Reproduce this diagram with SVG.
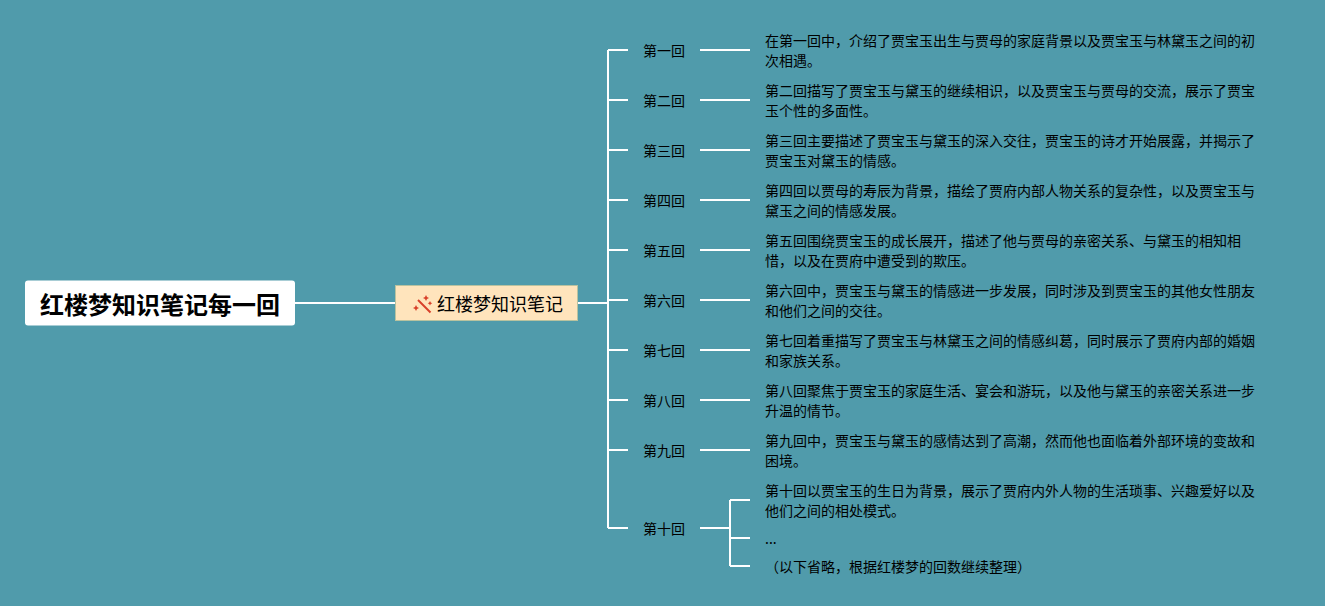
<svg xmlns="http://www.w3.org/2000/svg" width="1325" height="606" viewBox="0 0 1325 606">
<style>
text{font-family:"Noto Sans CJK SC","Noto Sans",sans-serif;fill:#000}
.c{fill:none;stroke:#fff;stroke-width:2}
.b{font-size:14px}
.t{font-size:14px}
</style>
<rect width="1325" height="606" fill="#509BAB"/>
<g id="connectors" class="c">
<path class="c" d="M295 303H395M578 303H608M608 50H628M608 528H628M608 50V528M608 100H628M608 150H628M608 200H628M608 250H628M608 300H628M608 350H628M608 400H628M608 450H628"/>
<path class="c" d="M700 50H750M700 100H750M700 150H750M700 200H750M700 250H750M700 300H750M700 350H750M700 400H750M700 450H750M700 528H730M730 500H750M730 538H750M730 566H750M730 500V566"/>
</g>
<g id="root"><rect x="25" y="280.500" width="270" height="45" rx="3" fill="#fff"/><text x="40" y="314" font-size="24" font-weight="700">红楼梦知识笔记每一回</text></g>
<g id="center"><rect x="395.500" y="285.500" width="182" height="35" fill="#FFE4BC" stroke="#B9C29F"/>
<path d="M418 300L430.500 312.500" stroke="#D8402A" stroke-width="2" fill="none"/><path d="M426 295l1 2 2 1-2 1-1 2-1-2-2-1 2-1zM416 305l1 2 2 1-2 1-1 2-1-2-2-1 2-1zM430 301l.8 1.500 1.500.8-1.500.8-.8 1.500-.8-1.500-1.500-.8 1.500-.8z" fill="#D8402A"/>
<text x="437" y="311" font-size="18">红楼梦知识笔记</text></g>
<g id="n1"><text class="t" x="643" y="56">第一回</text><text class="b" x="765" y="46">在第一回中，介绍了贾宝玉出生与贾母的家庭背景以及贾宝玉与林黛玉之间的初</text><text class="b" x="765" y="66">次相遇。</text></g>
<g id="n2"><text class="t" x="643" y="106">第二回</text><text class="b" x="765" y="96">第二回描写了贾宝玉与黛玉的继续相识，以及贾宝玉与贾母的交流，展示了贾宝</text><text class="b" x="765" y="116">玉个性的多面性。</text></g>
<g id="n3"><text class="t" x="643" y="156">第三回</text><text class="b" x="765" y="146">第三回主要描述了贾宝玉与黛玉的深入交往，贾宝玉的诗才开始展露，并揭示了</text><text class="b" x="765" y="166">贾宝玉对黛玉的情感。</text></g>
<g id="n4"><text class="t" x="643" y="206">第四回</text><text class="b" x="765" y="196">第四回以贾母的寿辰为背景，描绘了贾府内部人物关系的复杂性，以及贾宝玉与</text><text class="b" x="765" y="216">黛玉之间的情感发展。</text></g>
<g id="n5"><text class="t" x="643" y="256">第五回</text><text class="b" x="765" y="246">第五回围绕贾宝玉的成长展开，描述了他与贾母的亲密关系、与黛玉的相知相</text><text class="b" x="765" y="266">惜，以及在贾府中遭受到的欺压。</text></g>
<g id="n6"><text class="t" x="643" y="306">第六回</text><text class="b" x="765" y="296">第六回中，贾宝玉与黛玉的情感进一步发展，同时涉及到贾宝玉的其他女性朋友</text><text class="b" x="765" y="316">和他们之间的交往。</text></g>
<g id="n7"><text class="t" x="643" y="356">第七回</text><text class="b" x="765" y="346">第七回着重描写了贾宝玉与林黛玉之间的情感纠葛，同时展示了贾府内部的婚姻</text><text class="b" x="765" y="366">和家族关系。</text></g>
<g id="n8"><text class="t" x="643" y="406">第八回</text><text class="b" x="765" y="396">第八回聚焦于贾宝玉的家庭生活、宴会和游玩，以及他与黛玉的亲密关系进一步</text><text class="b" x="765" y="416">升温的情节。</text></g>
<g id="n9"><text class="t" x="643" y="456">第九回</text><text class="b" x="765" y="446">第九回中，贾宝玉与黛玉的感情达到了高潮，然而他也面临着外部环境的变故和</text><text class="b" x="765" y="466">困境。</text></g>
<g id="n10"><text class="t" x="643" y="534">第十回</text><text class="b" x="765" y="496">第十回以贾宝玉的生日为背景，展示了贾府内外人物的生活琐事、兴趣爱好以及</text><text class="b" x="765" y="516">他们之间的相处模式。</text><text class="b" x="765" y="544">...</text><text class="b" x="765" y="572">（以下省略，根据红楼梦的回数继续整理）</text></g>
</svg>
